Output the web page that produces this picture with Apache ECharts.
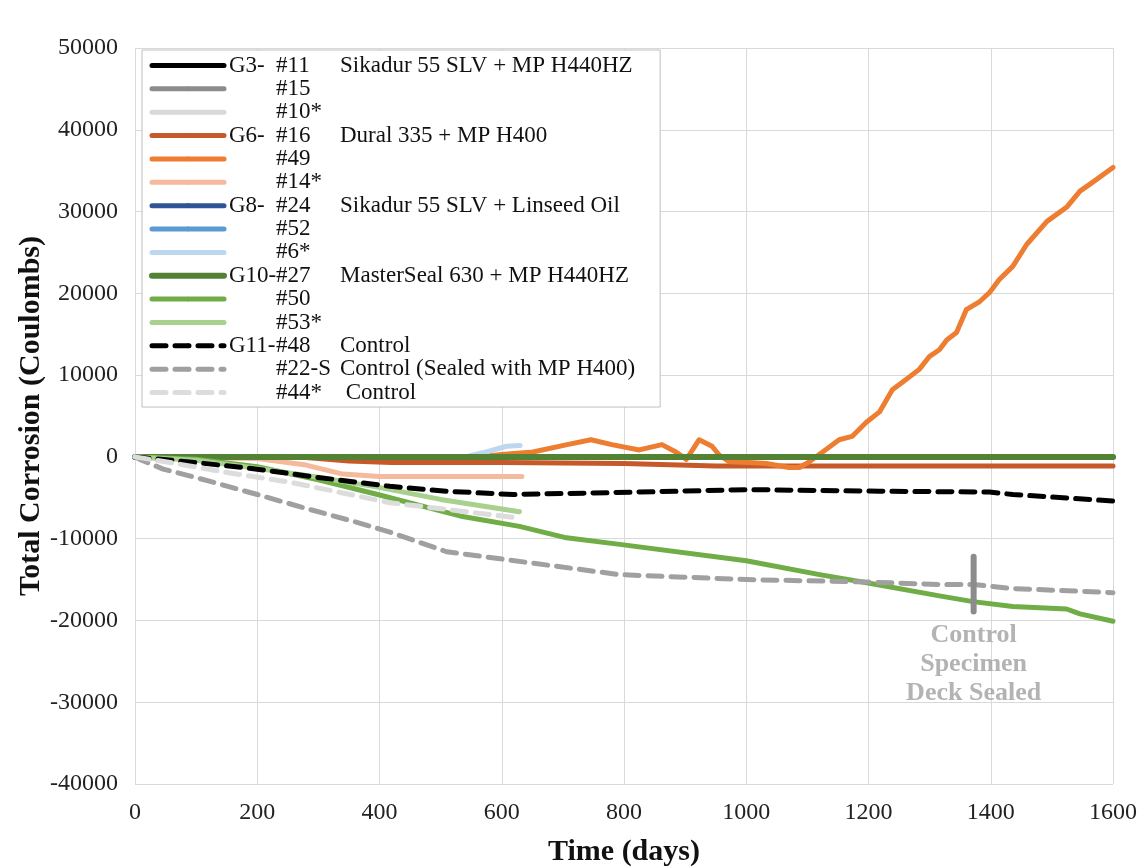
<!DOCTYPE html>
<html>
<head>
<meta charset="utf-8">
<script src="https://cdn.jsdelivr.net/npm/echarts@6/dist/echarts.min.js"></script>
<style>
  html, body { margin: 0; padding: 0; background: #fff; }
  #chart { width: 1148px; height: 867px; }
</style>
</head>
<body>
<div id="chart"></div>
<script>
// Axis ticks
const xTicks = { min: 0, max: 1600, step: 200 };
const yTicks = { min: -40000, max: 50000, step: 10000 };

// Legend columns: group, specimen, description
const seriesGroup = ['G3-', '', '', 'G6-', '', '', 'G8-', '', '', 'G10-', '', '', 'G11-', '', ''];
const seriesId = ['#11', '#15', '#10*', '#16', '#49', '#14*', '#24', '#52', '#6*', '#27', '#50', '#53*', '#48', '#22-S', '#44*'];
const seriesDesc = ['Sikadur 55 SLV + MP H440HZ', '', '', 'Dural 335 + MP H400', '', '',
  'Sikadur 55 SLV + Linseed Oil', '', '', 'MasterSeal 630 + MP H440HZ', '', '',
  'Control', 'Control (Sealed with MP H400)', ' Control'];
const seriesColor = ['#000000', '#8c8c8c', '#d9d9d9', '#c5592a', '#ed7d31', '#f5b99c',
  '#2f5597', '#5b9bd5', '#bdd7ee', '#548235', '#70ad47', '#a9d18e', '#000000', '#a0a0a0', '#dcdcdc'];
const seriesDashed = [false, false, false, false, false, false, false, false, false, false, false, false, true, true, true];

// Total corrosion [day, coulombs]
const g3_11 = [[0, 0], [1600, 0]];
const g3_15 = [[0, 0], [630, 0]];
const g3_10 = [[0, 0], [630, 0]];
const g6_16 = [[0, 0], [270, 0], [350, -500], [420, -700], [600, -700], [800, -800], [950, -1100], [1600, -1100]];
const g6_49 = [[0, 0], [560, 0], [600, 300], [651, 600], [707, 1500], [746, 2100], [780, 1500], [825, 850],
  [862, 1500], [885, 600], [902, -300], [923, 2100], [944, 1300], [956, 200], [972, -600], [1005, -700],
  [1033, -800], [1070, -1300], [1087, -1300], [1103, -600], [1125, 600], [1152, 2100], [1173, 2500],
  [1196, 4200], [1218, 5500], [1239, 8200], [1262, 9500], [1283, 10700], [1300, 12300], [1316, 13100],
  [1328, 14300], [1344, 15200], [1360, 18000], [1382, 19000], [1398, 20100], [1414, 21700], [1436, 23300],
  [1459, 26000], [1492, 28800], [1525, 30600], [1546, 32500], [1567, 33600], [1600, 35400]];
const g6_14 = [[0, 0], [200, -200], [280, -1000], [340, -2100], [400, -2400], [633, -2400]];
const g8_24 = [[0, 0], [1600, 0]];
const g8_52 = [[0, 0], [630, 0]];
const g8_6 = [[0, 0], [540, 0], [569, 500], [608, 1300], [630, 1400]];
const g10_27 = [[0, 0], [1600, 0]];
const g10_50 = [[0, 0], [100, -300], [200, -1200], [300, -2800], [397, -4600], [536, -7300], [629, -8500],
  [706, -9900], [793, -10700], [1000, -12700], [1120, -14400], [1197, -15400], [1316, -17000],
  [1371, -17700], [1436, -18300], [1524, -18600], [1546, -19200], [1600, -20100]];
const g10_53 = [[0, 0], [100, -400], [210, -1500], [300, -2500], [397, -3700], [500, -5200], [629, -6700]];
const g11_48 = [[0, 0], [101, -700], [200, -1500], [298, -2500], [417, -3600], [510, -4200], [619, -4600],
  [825, -4300], [1000, -4000], [1218, -4200], [1398, -4300], [1436, -4600], [1518, -5000], [1600, -5400]];
const g11_22 = [[0, 0], [8, -300], [46, -1500], [78, -2100], [123, -3000], [200, -4600], [275, -6200],
  [363, -8000], [417, -9200], [510, -11600], [641, -12900], [793, -14400], [1000, -15000], [1197, -15300],
  [1316, -15600], [1371, -15600], [1436, -16100], [1600, -16600]];
const g11_44 = [[0, 0], [50, -600], [150, -1900], [254, -3100], [417, -5600], [619, -7400], [630, -7500]];

const seriesData = [g3_11, g3_15, g3_10, g6_16, g6_49, g6_14, g8_24, g8_52, g8_6,
  g10_27, g10_50, g10_53, g11_48, g11_22, g11_44];

// Marker where the control deck was sealed
const sealDay = 1372;
const sealMark = [[sealDay, -12200], [sealDay, -18900]];
const sealText = 'Control\nSpecimen\nDeck Sealed';

const FONT = '"Liberation Serif", "Times New Roman", serif';
const names = seriesId.map((id, i) => (seriesGroup[i] || '') + id);

const lineSeries = seriesData.map((d, i) => ({
  name: names[i],
  type: 'line',
  data: d,
  symbol: 'none',
  smooth: false,
  z: 2,
  lineStyle: {
    color: seriesColor[i],
    width: i === 9 ? 6 : 5,
    type: seriesDashed[i] ? [14, 9] : 'solid',
    cap: 'round',
    join: 'round'
  },
  itemStyle: { color: seriesColor[i] },
  emphasis: { disabled: true }
}));

lineSeries.push({
  name: 'seal',
  type: 'line',
  data: sealMark,
  symbol: 'none',
  z: 3,
  lineStyle: { color: '#8c8c8c', width: 6, cap: 'round' },
  emphasis: { disabled: true }
});
lineSeries.push({
  name: 'sealLabel',
  type: 'scatter',
  data: [sealMark[1]],
  symbolSize: 1,
  itemStyle: { color: 'rgba(0,0,0,0)' },
  z: 3,
  label: {
    show: true,
    position: 'bottom',
    distance: 9,
    formatter: sealText,
    fontFamily: FONT,
    fontWeight: 'bold',
    fontSize: 26,
    lineHeight: 29,
    color: '#a0a0a0',
    align: 'center'
  },
  emphasis: { disabled: true }
});

const plainNumber = v => String(v);

const chart = echarts.init(document.getElementById('chart'), null, { renderer: 'canvas' });
chart.setOption({
  animation: false,
  backgroundColor: '#ffffff',
  grid: { left: 135, right: 35, top: 48, bottom: 83, containLabel: false, outerBoundsMode: 'none' },
  xAxis: {
    type: 'value',
    min: xTicks.min, max: xTicks.max, interval: xTicks.step,
    name: 'Time (days)',
    nameLocation: 'middle',
    nameGap: 53,
    nameMoveOverlap: false,
    nameTextStyle: { fontFamily: FONT, fontWeight: 'bold', fontSize: 30, color: '#111' },
    axisLine: { show: false },
    axisTick: { show: false },
    axisLabel: { fontFamily: FONT, fontSize: 24, color: '#222', margin: 17, formatter: plainNumber },
    splitLine: { show: true, lineStyle: { color: '#d9d9d9', width: 1 } }
  },
  yAxis: {
    type: 'value',
    min: yTicks.min, max: yTicks.max, interval: yTicks.step,
    name: 'Total Corrosion (Coulombs)',
    nameLocation: 'middle',
    nameGap: 89,
    nameMoveOverlap: false,
    nameTextStyle: { fontFamily: FONT, fontWeight: 'bold', fontSize: 30, color: '#111' },
    axisLine: { show: false },
    axisTick: { show: false },
    axisLabel: { fontFamily: FONT, fontSize: 24, color: '#222', margin: 17, formatter: plainNumber },
    splitLine: { show: true, lineStyle: { color: '#d9d9d9', width: 1 } }
  },
  legend: {
    data: names,
    orient: 'vertical',
    left: 142,
    top: 50,
    itemWidth: 72,
    itemHeight: 6,
    itemGap: 0.36,
    padding: [4, 25, 3, 7],
    backgroundColor: '#ffffff',
    borderColor: '#bfbfbf',
    borderWidth: 1,
    selectedMode: false,
    lineStyle: { width: 'inherit', type: 'inherit' },
    textStyle: {
      fontFamily: FONT,
      fontSize: 23,
      lineHeight: 23,
      color: '#111',
      rich: {
        g: { width: 47, fontFamily: FONT, fontSize: 23, lineHeight: 23, color: '#111' },
        n: { width: 64, fontFamily: FONT, fontSize: 23, lineHeight: 23, color: '#111' },
        d: { fontFamily: FONT, fontSize: 23, lineHeight: 23, color: '#111' }
      }
    },
    formatter: function (name) {
      const i = names.indexOf(name);
      return '{g|' + seriesGroup[i] + '}{n|' + seriesId[i] + '}{d|' + seriesDesc[i] + '}';
    }
  },
  tooltip: { show: false },
  series: lineSeries
});
</script>
</body>
</html>
